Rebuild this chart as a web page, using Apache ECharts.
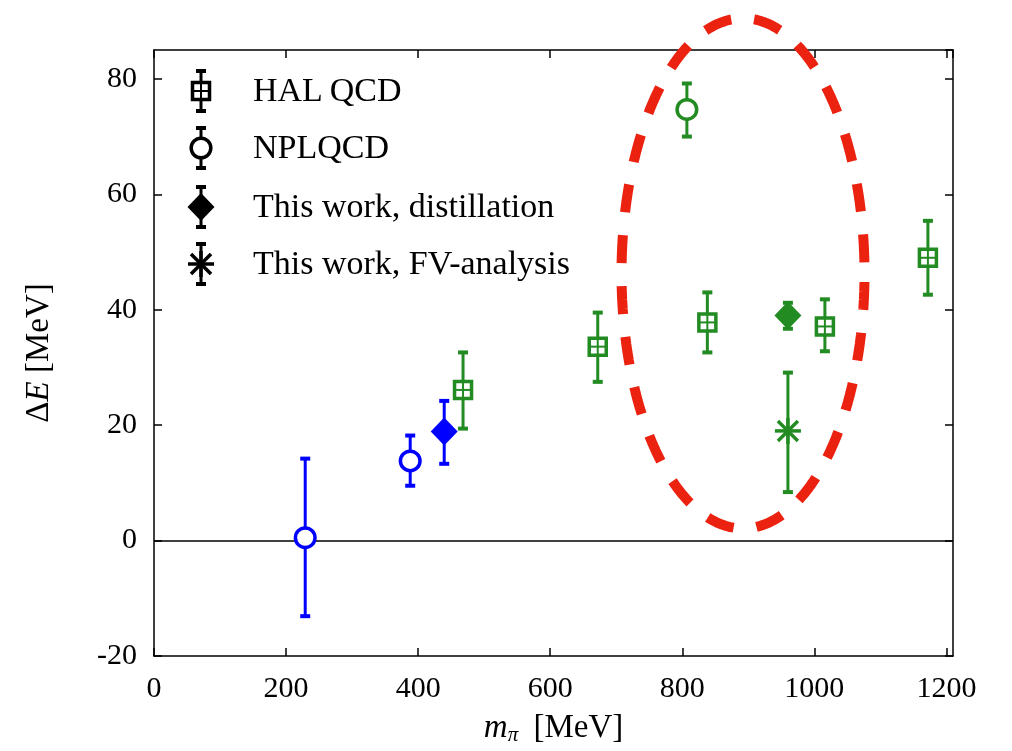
<!DOCTYPE html>
<html>
<head>
<meta charset="utf-8">
<script src="https://cdn.jsdelivr.net/npm/echarts@6/dist/echarts.min.js"></script>
<style>
html, body { margin: 0; padding: 0; background: #fff; }
#chart { width: 1012px; height: 751px; }
</style>
</head>
<body>
<div id="chart"></div>
<script>
// m_pi [MeV] -> Delta E [MeV], error bars given as low / high ends
const halX  = [468, 672, 838, 1016, 1172];
const halY  = [26.1, 33.6, 37.8, 37.1, 49.0];
const halLo = [19.4, 27.5, 32.6, 32.8, 42.6];
const halHi = [32.6, 39.5, 43.0, 41.8, 55.4];

const nplX  = [229, 388, 807];
const nplY  = [0.5, 13.8, 74.7];
const nplLo = [-13.1, 9.5, 70.0];
const nplHi = [14.2, 18.2, 79.2];

const distX  = [439.5, 960];
const distY  = [18.9, 39.0];
const distLo = [13.3, 36.7];
const distHi = [24.2, 41.2];

const fvX  = [960];
const fvY  = [19.0];
const fvLo = [8.4];
const fvHi = [29.1];

// red dashed ellipse marking the heavy-pion region (centre / half axes in data units)
const ellCenter = [892, 46.3];
const ellRadius = [184, 44.2];

const xTicks = [0, 200, 400, 600, 800, 1000, 1200];
const yTicks = [-20, 0, 20, 40, 60, 80];

const legendNames = ['HAL\u2009QCD', 'NPLQCD', 'This work, distillation', 'This work, FV-analysis'];

const BLUE = '#0000ff';
const GREEN = '#228b22';
const FONT = '"Liberation Serif", "Times New Roman", serif';

const halColors  = [GREEN, GREEN, GREEN, GREEN, GREEN];
const nplColors  = [BLUE, BLUE, GREEN];
const distColors = [BLUE, GREEN];
const fvColors   = [GREEN];

function rows(x, y, lo, hi) {
  return x.map((v, i) => [v, y[i], lo[i], hi[i]]);
}

const ellipse = [];
for (let t = 0; t <= 360; t += 2) {
  const a = t * Math.PI / 180;
  ellipse.push([ellCenter[0] + ellRadius[0] * Math.cos(a), ellCenter[1] + ellRadius[1] * Math.sin(a)]);
}

function barShapes(dLo, dHi, col) {
  return [
    { type: 'line', shape: { x1: 0, y1: dLo, x2: 0, y2: dHi }, style: { stroke: col, lineWidth: 3 } },
    { type: 'line', shape: { x1: -5, y1: dLo, x2: 5, y2: dLo }, style: { stroke: col, lineWidth: 4 } },
    { type: 'line', shape: { x1: -5, y1: dHi, x2: 5, y2: dHi }, style: { stroke: col, lineWidth: 4 } }
  ];
}

function markerShapes(kind, col) {
  if (kind === 'square') {
    return [
      { type: 'rect', shape: { x: -8.5, y: -8.5, width: 17, height: 17 }, style: { fill: '#fff', stroke: col, lineWidth: 3.5 } },
      { type: 'line', shape: { x1: -8, y1: 0, x2: 8, y2: 0 }, style: { stroke: col, lineWidth: 2 } },
      { type: 'line', shape: { x1: 0, y1: -8, x2: 0, y2: 8 }, style: { stroke: col, lineWidth: 2 } }
    ];
  }
  if (kind === 'circle') {
    return [{ type: 'circle', shape: { cx: 0, cy: 0, r: 9.8 }, style: { fill: '#fff', stroke: col, lineWidth: 3.5 } }];
  }
  if (kind === 'diamond') {
    return [{ type: 'polygon', shape: { points: [[0, -14], [13.5, 0], [0, 14], [-13.5, 0]] }, style: { fill: col } }];
  }
  // asterisk
  const st = { stroke: col, lineWidth: 3.5 };
  return [
    { type: 'line', shape: { x1: -13, y1: 0, x2: 13, y2: 0 }, style: st },
    { type: 'line', shape: { x1: 0, y1: -13, x2: 0, y2: 13 }, style: st },
    { type: 'line', shape: { x1: -10, y1: -10, x2: 10, y2: 10 }, style: st },
    { type: 'line', shape: { x1: -10, y1: 10, x2: 10, y2: -10 }, style: st }
  ];
}

function errorBarItem(kind, colors) {
  return function (params, api) {
    const c = api.coord([api.value(0), api.value(1)]);
    const lo = api.coord([api.value(0), api.value(2)])[1];
    const hi = api.coord([api.value(0), api.value(3)])[1];
    const col = colors[params.dataIndex];
    return {
      type: 'group',
      x: c[0],
      y: c[1],
      children: barShapes(lo - c[1], hi - c[1], col).concat(markerShapes(kind, col))
    };
  };
}

function errSeries(name, kind, colors, data) {
  return {
    name: name,
    type: 'custom',
    renderItem: errorBarItem(kind, colors),
    encode: { x: 0, y: [1, 2, 3] },
    data: data,
    z: 5
  };
}

// legend drawn by hand: black symbols with error bars, like the original
const legendKinds = ['square', 'circle', 'diamond', 'star'];
const legendY = [91, 148, 207, 264];
const legendGraphic = legendNames.map((n, i) => ({
  type: 'group',
  x: 201,
  y: legendY[i],
  children: barShapes(20, -20, '#000').concat(markerShapes(legendKinds[i], '#000')).concat([{
    type: 'text',
    x: 52,
    y: 1,
    style: { text: n, fontFamily: FONT, fontSize: 34, fill: '#000', verticalAlign: 'middle' }
  }])
}));

const axisLineStyle = { color: '#000', width: 1.5 };

function frameAxis(extra) {
  return Object.assign({
    type: 'value',
    axisLine: { show: true, onZero: false, lineStyle: axisLineStyle },
    axisTick: { show: true, inside: true, length: 8, lineStyle: axisLineStyle },
    splitLine: { show: false }
  }, extra);
}

const chart = echarts.init(document.getElementById('chart'));
chart.setOption({
  animation: false,
  backgroundColor: '#fff',
  grid: { left: 154, right: 59, top: 50, bottom: 95, outerBoundsMode: 'none', containLabel: false },
  xAxis: [frameAxis({
    min: 0,
    max: 1210,
    interval: 200,
    position: 'bottom',
    axisLabel: {
      color: '#000', fontFamily: FONT, fontSize: 30, margin: 18, showMaxLabel: false,
      formatter: v => (xTicks.indexOf(v) >= 0 ? String(v) : '')
    },
    name: '{i|m}{s|π} [MeV]',
    nameLocation: 'middle',
    nameGap: 54,
    nameTextStyle: {
      color: '#000', fontFamily: FONT, fontSize: 33,
      rich: {
        i: { fontFamily: FONT, fontSize: 33, fontStyle: 'italic', color: '#000' },
        s: { fontFamily: FONT, fontSize: 21, fontStyle: 'italic', color: '#000', padding: [15, 7, 0, 0] }
      }
    }
  }), frameAxis({
    min: 0,
    max: 1210,
    interval: 200,
    position: 'top',
    axisLabel: { show: false }
  })],
  yAxis: [frameAxis({
    min: -20,
    max: 85,
    interval: 20,
    position: 'left',
    axisLabel: {
      color: '#000', fontFamily: FONT, fontSize: 30, margin: 17, showMaxLabel: false,
      formatter: v => (yTicks.indexOf(v) >= 0 ? String(v) : '')
    },
    name: '{n|Δ}{i|E} [MeV]',
    nameLocation: 'middle',
    nameRotate: 90,
    nameGap: 98,
    nameTextStyle: {
      color: '#000', fontFamily: FONT, fontSize: 33,
      rich: {
        n: { fontFamily: FONT, fontSize: 33, color: '#000' },
        i: { fontFamily: FONT, fontSize: 33, fontStyle: 'italic', color: '#000' }
      }
    }
  }), frameAxis({
    min: -20,
    max: 85,
    interval: 20,
    position: 'right',
    axisLabel: { show: false }
  })],
  graphic: legendGraphic,
  series: [
    {
      name: 'region',
      type: 'line',
      data: ellipse,
      clip: false,
      showSymbol: false,
      symbol: 'none',
      silent: true,
      z: 3,
      lineStyle: { color: '#ec2211', width: 10, type: [28, 23], dashOffset: 40, cap: 'butt' },
      markLine: {
        silent: true,
        symbol: 'none',
        label: { show: false },
        lineStyle: { color: '#000', width: 1.5, type: 'solid' },
        data: [{ yAxis: 0 }]
      }
    },
    errSeries('HAL QCD', 'square', halColors, rows(halX, halY, halLo, halHi)),
    errSeries('NPLQCD', 'circle', nplColors, rows(nplX, nplY, nplLo, nplHi)),
    errSeries('This work, distillation', 'diamond', distColors, rows(distX, distY, distLo, distHi)),
    errSeries('This work, FV-analysis', 'star', fvColors, rows(fvX, fvY, fvLo, fvHi))
  ]
});
</script>
</body>
</html>
